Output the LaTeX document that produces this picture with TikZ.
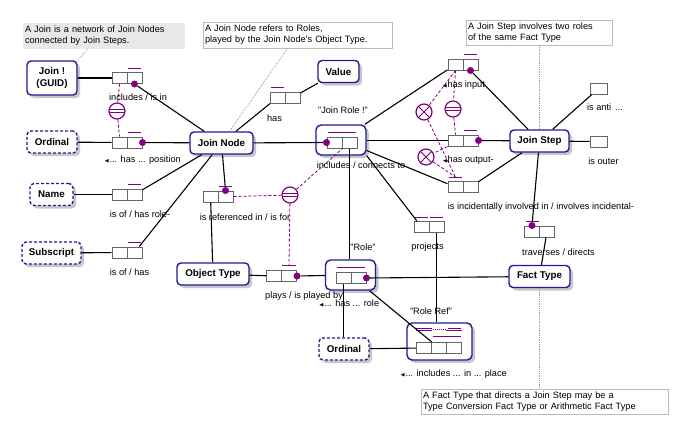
\documentclass[tikz,border=0pt]{standalone}
\usepackage{fontspec}
\setmainfont{Liberation Sans}
\usepackage{amssymb}
\usetikzlibrary{calc,shadows}

\definecolor{ormblue}{RGB}{28,28,150}
\definecolor{ormpurple}{RGB}{128,0,128}
\definecolor{notegray}{RGB}{232,232,232}
\definecolor{noteframe}{RGB}{190,190,175}

\tikzset{
  ormtext/.style={font=\fontsize{9.2}{11}\selectfont},
  entity/.style={font=\fontsize{9.8}{11.5}\selectfont\bfseries, draw=ormblue, line width=1.4pt,
    rounded corners=4pt, fill=white, minimum height=22pt, inner sep=1pt,
    drop shadow={shadow xshift=3pt, shadow yshift=-3pt, fill=black!22, opacity=1}},
  valtype/.style={entity, dash pattern=on 3pt off 2pt},
  objbox/.style={draw=ormblue, line width=1.4pt, rounded corners=5pt, fill=white,
    minimum width=50pt, minimum height=30pt,
    drop shadow={shadow xshift=3pt, shadow yshift=-3pt, fill=black!22, opacity=1}},
  role/.style={draw=black!60, line width=1pt, fill=white, minimum width=15pt,
    minimum height=11pt, inner sep=0pt},
  mand/.style={circle, fill=ormpurple, minimum size=7pt, inner sep=0pt},
  ubar/.style={ormpurple, line width=1pt, shorten <=1.5pt, shorten >=1.5pt},
  link/.style={line width=1.1pt},
  cline/.style={ormpurple, line width=0.8pt, dash pattern=on 3pt off 2pt},
  eqc/.style={circle, draw=ormpurple, line width=1.2pt, fill=white, minimum size=16pt, inner sep=0pt,
    path picture={\draw[ormpurple, line width=1pt]
      ([yshift=1.5pt]path picture bounding box.west) -- ([yshift=1.5pt]path picture bounding box.east)
      ([yshift=-1.5pt]path picture bounding box.west) -- ([yshift=-1.5pt]path picture bounding box.east);}},
  exc/.style={circle, draw=ormpurple, line width=1.2pt, fill=white, minimum size=16pt, inner sep=0pt,
    path picture={\draw[ormpurple, line width=1pt]
      (path picture bounding box.north west) -- (path picture bounding box.south east)
      (path picture bounding box.south west) -- (path picture bounding box.north east);}},
  lbl/.style={ormtext, inner sep=0pt},
  note/.style={ormtext, align=left, inner sep=2pt, line width=0.8pt},
  noteline/.style={densely dotted, black!40, line width=0.8pt}
}
\newcommand{\lft}{{\tiny$\blacktriangleleft$}}

\begin{document}
\begin{tikzpicture}[x=1pt,y=-1pt]
\useasboundingbox (0,0) rectangle (687,426);

% notes
\node[note, fill=notegray, minimum width=162pt, minimum height=26pt, text width=158pt] (note1) at (104,36)
  {A Join is a network of Join Nodes\\connected by Join Steps.};
\node[note, draw=noteframe, fill=white, minimum width=189pt, minimum height=26pt, text width=185pt] (note2) at (297.5,35)
  {A Join Node refers to Roles,\\played by the Join Node's Object Type.};
\node[note, draw=noteframe, fill=white, minimum width=146pt, minimum height=25pt, text width=142pt] (note3) at (539,32.5)
  {A Join Step involves two roles\\of the same Fact Type};
\node[note, draw=noteframe, fill=white, minimum width=247pt, minimum height=25pt, text width=243pt] (note4) at (544.5,401.5)
  {A Fact Type that directs a Join Step may be a\\Type Conversion Fact Type or Arithmetic Fact Type};

% object types
\node[entity, minimum width=50pt, minimum height=34pt, align=center] (join) at (52,78) {Join !\\(GUID)};
\node[valtype, minimum width=50pt] (ord1) at (52,142) {Ordinal};
\node[valtype, minimum width=43pt] (name) at (51.5,194.5) {Name};
\node[valtype, minimum width=59pt] (subscr) at (51.5,253) {Subscript};
\node[entity, minimum width=63pt] (jnode) at (221.5,143) {Join Node};
\node[entity, minimum width=41pt] (value) at (338.5,71.5) {Value};
\node[entity, minimum width=72pt] (otype) at (213,274) {Object Type};
\node[entity, minimum width=59pt] (jstep) at (539.5,141) {Join Step};
\node[entity, minimum width=61pt] (ftype) at (539.5,276.5) {Fact Type};
\node[valtype, minimum width=50pt] (ord2) at (344,349) {Ordinal};

% objectified fact types
\node[objbox] (jrbox) at (341,140) {};
\node[objbox] (rolebox) at (350.5,275) {};
\node[objbox, minimum width=65pt, minimum height=37pt] (rrbox) at (439.5,341.5) {};

% roles
\node[role] (r1a) at (119.5,78) {};    \node[role] (r1b) at (134.5,78) {};
\node[role] (r2a) at (119.5,142.5) {}; \node[role] (r2b) at (134.5,142.5) {};
\node[role] (r3a) at (119.5,194.5) {}; \node[role] (r3b) at (134.5,194.5) {};
\node[role] (r4a) at (119.5,252.5) {}; \node[role] (r4b) at (134.5,252.5) {};
\node[role] (r5a) at (277.5,97.5) {};  \node[role] (r5b) at (292.5,97.5) {};
\node[role] (r6a) at (210.5,196.5) {}; \node[role] (r6b) at (225.5,196.5) {};
\node[role] (r7a) at (274,276) {};     \node[role] (r7b) at (289,276) {};
\node[role] (jr1) at (334.5,142.5) {}; \node[role] (jr2) at (349.5,142.5) {};
\node[role] (r9a) at (455.5,64.5) {};  \node[role] (r9b) at (470.5,64.5) {};
\node[role] (r10a) at (455.5,140.5) {}; \node[role] (r10b) at (470.5,140.5) {};
\node[role] (r11a) at (455.5,187) {};  \node[role] (r11b) at (470.5,187) {};
\node[role] (r12a) at (421.5,227) {};  \node[role] (r12b) at (436.5,227) {};
\node[role, minimum width=17pt] (s14) at (598.5,88.5) {};
\node[role, minimum width=17pt] (s15) at (598.5,141.5) {};
\node[role] (r16a) at (532,231.5) {};  \node[role] (r16b) at (547,231.5) {};
\node[role] (rr1) at (343.5,278) {};   \node[role] (rr2) at (358.5,278) {};
\node[role] (rf1) at (424,348) {};     \node[role] (rf2) at (439,348) {};
\node[role] (rf3) at (454,348) {};

% uniqueness bars
\draw[ubar] ([yshift=4pt]r1b.north west) -- ([yshift=4pt]r1b.north east);
\draw[ubar] ([yshift=4pt]r2b.north west) -- ([yshift=4pt]r2b.north east);
\draw[ubar] ([yshift=4pt]r3b.north west) -- ([yshift=4pt]r3b.north east);
\draw[ubar] ([yshift=4pt]r4b.north west) -- ([yshift=4pt]r4b.north east);
\draw[ubar] ([yshift=4pt]r5a.north west) -- ([yshift=4pt]r5a.north east);
\draw[ubar] ([yshift=4pt]r6b.north west) -- ([yshift=4pt]r6b.north east);
\draw[ubar] ([yshift=4.5pt]r7b.north west) -- ([yshift=4.5pt]r7b.north east);
\draw[ubar] ([yshift=4pt]jr1.north west) -- ([yshift=4pt]jr2.north east);
\draw[ubar] ([yshift=4pt]r9b.north west) -- ([yshift=4pt]r9b.north east);
\draw[ubar] ([yshift=4pt]r10b.north west) -- ([yshift=4pt]r10b.north east);
\draw[ubar] ([yshift=4pt]r11a.north west) -- ([yshift=4pt]r11a.north east);
\draw[ubar] ([yshift=4pt]r12a.north west) -- ([yshift=4pt]r12a.north east);
\draw[ubar] ([yshift=4pt]r12b.north west) -- ([yshift=4pt]r12b.north east);
\draw[ubar] ([yshift=4pt]r16a.north west) -- ([yshift=4pt]r16a.north east);
\draw[ubar] ([yshift=5pt]rr1.north west) -- ([yshift=5pt]rr2.north east);
\draw[ubar] ([yshift=12pt]rf1.north west) -- ([yshift=12pt]rf1.north east)
            ([yshift=14pt]rf1.north west) -- ([yshift=14pt]rf1.north east)
            ([yshift=12pt]rf3.north west) -- ([yshift=12pt]rf3.north east)
            ([yshift=14pt]rf3.north west) -- ([yshift=14pt]rf3.north east);
\draw[ubar, densely dotted] ([yshift=13pt]rf2.north west) -- ([yshift=13pt]rf2.north east);
\draw[ubar] ([yshift=6pt]rf2.north west) -- ([yshift=6pt]rf3.north east);
\coordinate (u7) at ([yshift=4.5pt]r7b.north);
\coordinate (u11) at ([yshift=4pt]r11a.north);

% mandatory dots
\node[mand] (d1) at (r1b.south) {};
\node[mand] (d2) at (r2b.east) {};
\node[mand] (d6) at (r6b.north) {};
\node[mand] (d7) at (r7b.east) {};
\node[mand] (jd) at (jr1.west) {};
\node[mand] (d9) at (r9b.south) {};
\node[mand] (d10) at (r10b.east) {};
\node[mand] (d16) at (r16a.north) {};
\node[mand] (dr) at (rr2.east) {};

% role links
\draw[link] (join) -- (r1a);   \draw[link] (d1) -- (jnode);
\draw[link] (ord1) -- (r2a);   \draw[link] (d2) -- (jnode);
\draw[link] (name) -- (r3a);   \draw[link] (r3b) -- (jnode);
\draw[link] (subscr) -- (r4a); \draw[link] (r4b) -- (jnode);
\draw[link] (jnode) -- (r5a);  \draw[link] (r5b) -- (value);
\draw[link] (jnode) -- (d6);   \draw[link] (r6a) -- (otype);
\draw[link] (otype) -- (r7a);  \draw[link] (d7) -- (rolebox);
\draw[link] (jnode) -- (jd);
\draw[link] (jrbox) -- (r9a);  \draw[link] (d9) -- (jstep);
\draw[link] (jrbox.east |- r10a) -- (r10a); \draw[link] (d10) -- (jstep);
\draw[link] (jrbox) -- (r11a); \draw[link] (r11b) -- (jstep);
\draw[link] (jrbox.south east) -- (r12a);
\draw[link] (r12b) -- (r12b |- rrbox.north);
\draw[link] (jr2.south) -- (jr2.south |- rolebox.north);
\draw[link] (jstep) -- (s14);  \draw[link] (jstep) -- (s15);
\draw[link] (jstep) -- (d16);  \draw[link] (r16b) -- (ftype);
\draw[link] (dr) -- (ftype);
\draw[link] (rr1.south) -- (rr1.south |- ord2.north);
\draw[link] (rolebox) -- (rf2);
\draw[link] (ord2) -- (rf1);

% note links
\draw[noteline] ([xshift=65pt]note1.south west) -- (join.north east);
\draw[noteline] ([xshift=85pt]note2.south west) -- ([xshift=8pt]jnode.north);
\draw[noteline] (note3.south -| jstep.north) -- (jstep.north);
\draw[noteline] (ftype.south) -- (ftype.south |- note4.north);

% constraints
\node[eqc] (eq1) at (117,111) {};
\node[eqc] (eq2) at (290,195) {};
\node[eqc] (eqA) at (453,109) {};
\node[exc] (exA) at (424,112) {};
\node[exc] (exB) at (426,157) {};
\draw[cline] (r1a.south) -- (eq1) -- (r2a.north);
\draw[cline] (r6b.east) -- (eq2) -- (u7);
\draw[cline] (eq2) -- (jr1.south east);
\draw[ormpurple, line width=1pt] ([xshift=-7pt]u7) -- ([xshift=7pt]u7);
\draw[cline] (r9a.south) -- (eqA) -- (r10a.north);
\draw[cline] (r9a.south) -- (exA) -- (u11);
\draw[cline] (r10a.south west) -- (exB) -- (u11);

% labels
\node[lbl] (l1) at (138,97) {includes / is in};
\node[lbl] (l2) at (142.5,160) {\lft... has ... position};
\node[lbl] (l3) at (140,214) {is of / has role-};
\node[lbl] (l4) at (129.5,272) {is of / has};
\node[lbl] (l5) at (274.5,118) {has};
\node[lbl] (l6) at (245,217) {is referenced in / is for};
\node[lbl] (l7) at (304,296) {plays / is played by};
\node[lbl] (l8) at (349,303) {\lft... has ... role};
\node[lbl] (l9) at (343,110) {"Join Role !"};
\node[lbl] (l10) at (361,165) {includes / connects to};
\node[lbl] (l11) at (463.5,85) {\lft has input};
\node[lbl] (l12) at (468,160) {\lft has output-};
\node[lbl] (l13) at (541,207) {is incidentally involved in / involves incidental-};
\node[lbl] (l14) at (427.5,247) {projects};
\node[lbl] (l15) at (605,107) {is anti \,...};
\node[lbl] (l16) at (603.5,161) {is outer};
\node[lbl] (l17) at (558.5,252) {traverses / directs};
\node[lbl] (l18) at (363,247) {"Role"};
\node[lbl] (l19) at (431,311) {"Role Ref"};
\node[lbl] (l20) at (453.5,374) {\lft... includes ... in ... place};
\end{tikzpicture}
\end{document}
